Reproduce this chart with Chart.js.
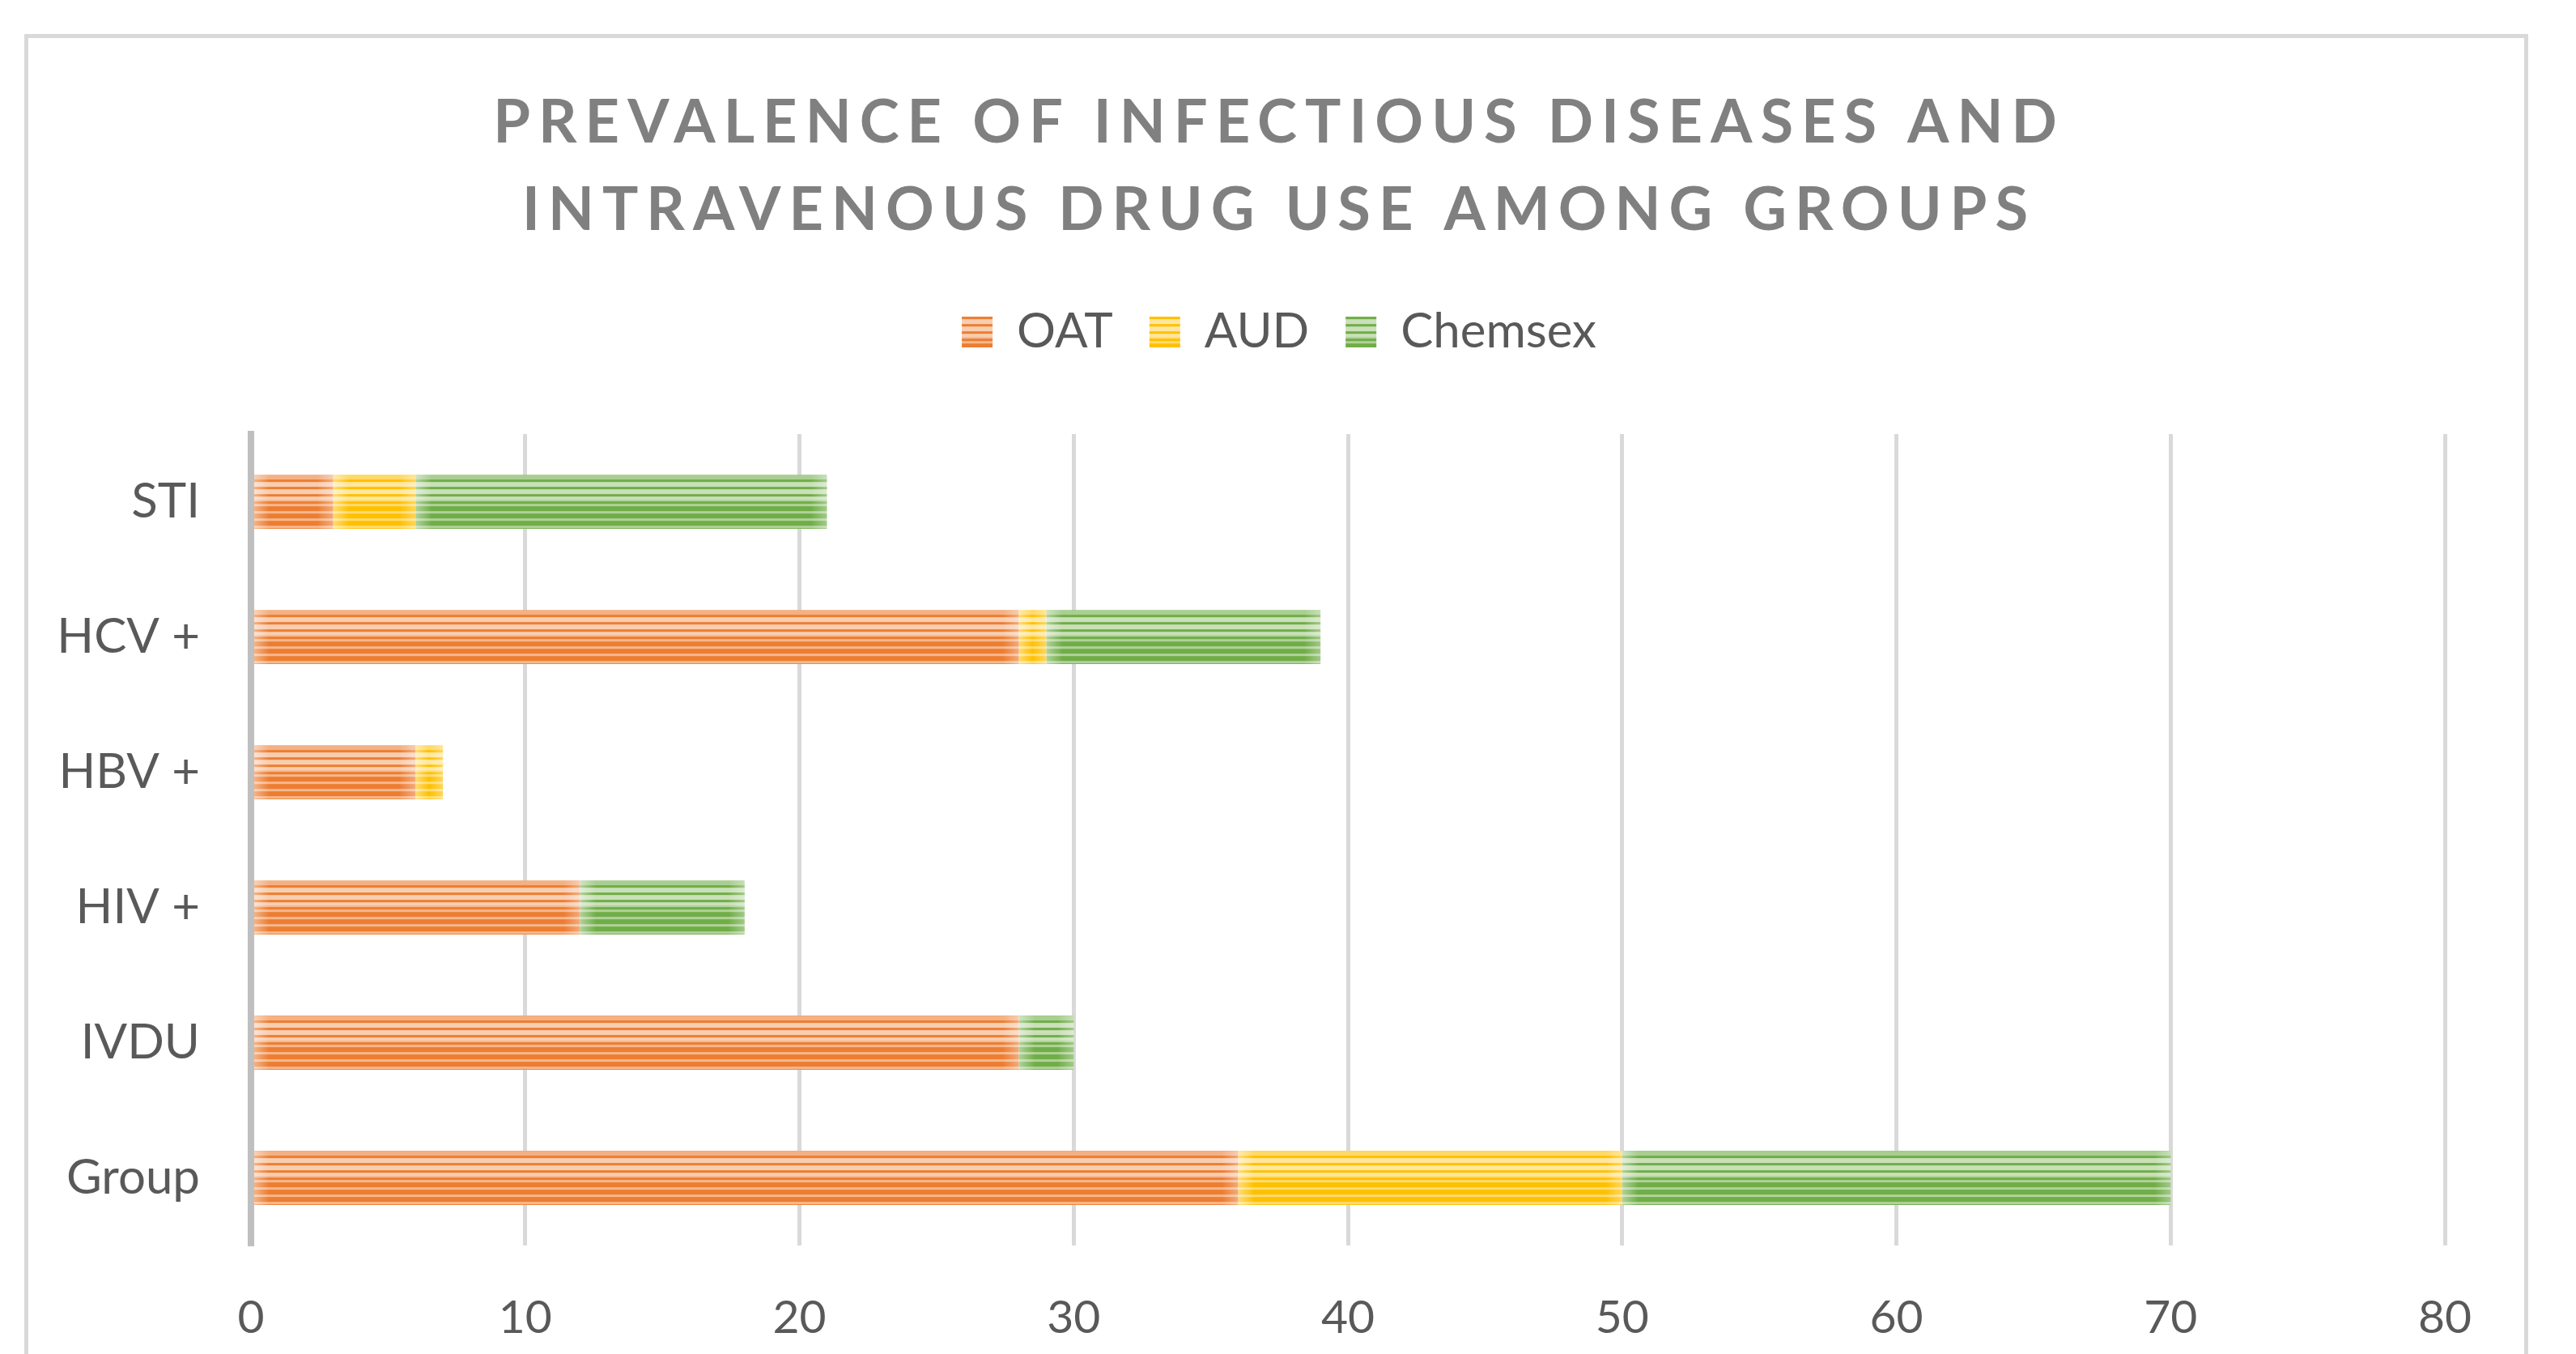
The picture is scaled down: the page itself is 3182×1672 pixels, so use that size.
<!DOCTYPE html>
<html lang="en">
<head>
<meta charset="UTF-8">
<title>Prevalence of infectious diseases and intravenous drug use among groups</title>
<style>
  body {
    margin: 0;
    background: #fff;
  }
  .frame {
    position: absolute;
    left: 30px;
    top: 42px;
    width: 3093px;
    height: 1700px;
    border: 5px solid #d9d9d9;
    box-sizing: border-box;
  }
  #chart {
    position: absolute;
    left: 0;
    top: 0;
  }
</style>
</head>
<body>
<div class="frame"></div>
<canvas id="chart" width="3182" height="1672"></canvas>

<script src="https://cdn.jsdelivr.net/npm/chart.js"></script>
<script>
  // values (top row first)
  const groups = ['STI', 'HCV +', 'HBV +', 'HIV +', 'IVDU', 'Group'];
  const oat = [3, 28, 6, 12, 28, 36];
  const aud = [3, 1, 1, 0, 0, 14];
  const chemsex = [15, 10, 0, 6, 2, 20];
  const xTicks = [0, 10, 20, 30, 40, 50, 60, 70, 80];

  function mix(hex, w) {
    const n = parseInt(hex.slice(1), 16);
    const r = n >> 16, g = (n >> 8) & 255, b = n & 255;
    const m = c => Math.round(c + (255 - c) * w);
    return `rgb(${m(r)},${m(g)},${m(b)})`;
  }

  // Excel style striped fill: thin dark lines on a pale top half,
  // thin pale lines on the darker bottom half
  function barTile(hex, h) {
    const c = document.createElement('canvas');
    c.width = 8;
    c.height = h;
    const g = c.getContext('2d');
    for (let y = 0; y < h; y++) {
      const p = y % 9;
      const light = y < h * 0.5 ? p < 6 : p < 3;
      let w = 0;
      if (light) w = y < 6 ? 0.4 : (y < h * 0.45 ? 0.62 : 0.45);
      g.fillStyle = light ? mix(hex, w) : hex;
      g.fillRect(0, y, 8, 1);
    }
    return c;
  }

  function stripes(hex) {
    return function (ctx) {
      const chart = ctx.chart;
      const yScale = chart.scales.y;
      if (ctx.type !== 'data' || !yScale || !chart.chartArea) {
        return chart.ctx.createPattern(barTile(hex, 38), 'repeat');
      }
      const h = yScale.height / groups.length * 0.4;
      const top = yScale.getPixelForValue(ctx.dataIndex) - h / 2;
      const pat = chart.ctx.createPattern(barTile(hex, Math.ceil(h)), 'repeat');
      pat.setTransform(new DOMMatrix().translate(0, top));
      return pat;
    };
  }

  // spaced-out title letters and a bit more room under the legend
  const layoutTweaks = {
    id: 'layoutTweaks',
    afterInit(chart) {
      const title = chart.titleBlock;
      const drawTitle = title.draw;
      title.draw = function () {
        chart.ctx.save();
        chart.ctx.letterSpacing = '10px';
        drawTitle.apply(this, arguments);
        chart.ctx.restore();
      };
      const legend = chart.legend;
      const fitLegend = legend.fit;
      legend.fit = function () {
        fitLegend.apply(this, arguments);
        this.height += 86;
      };
    }
  };

  // soft light glow at both ends of each bar segment
  const segmentGlow = {
    id: 'segmentGlow',
    afterDatasetsDraw(chart) {
      const ctx = chart.ctx;
      const glow = 20;
      chart.getSortedVisibleDatasetMetas().forEach(meta => {
        meta.data.forEach(bar => {
          const { x, y, base, height } = bar.getProps(['x', 'y', 'base', 'height'], true);
          const left = Math.min(x, base), right = Math.max(x, base);
          const w = right - left;
          if (w < 1) return;
          const top = y - height / 2;
          const g = Math.min(glow, w / 2);
          ctx.save();
          let grad = ctx.createLinearGradient(left, 0, left + g, 0);
          grad.addColorStop(0, 'rgba(255,255,255,0.45)');
          grad.addColorStop(1, 'rgba(255,255,255,0)');
          ctx.fillStyle = grad;
          ctx.fillRect(left, top, g, height);
          grad = ctx.createLinearGradient(right, 0, right - g, 0);
          grad.addColorStop(0, 'rgba(255,255,255,0.35)');
          grad.addColorStop(1, 'rgba(255,255,255,0)');
          ctx.fillStyle = grad;
          ctx.fillRect(right - g, top, g, height);
          ctx.restore();
        });
      });
    }
  };

  const labelColor = '#595959';

  new Chart(document.getElementById('chart'), {
    type: 'bar',
    data: {
      labels: groups,
      datasets: [
        { label: 'OAT', data: oat, backgroundColor: stripes('#ED7D31') },
        { label: 'AUD', data: aud, backgroundColor: stripes('#FFC000') },
        { label: 'Chemsex', data: chemsex, backgroundColor: stripes('#70AD47') }
      ]
    },
    options: {
      indexAxis: 'y',
      responsive: false,
      animation: false,
      layout: { padding: { left: 20, right: 42, top: 40, bottom: 10 } },
      datasets: {
        bar: { categoryPercentage: 1, barPercentage: 0.4, borderWidth: 0 }
      },
      plugins: {
        title: {
          display: true,
          text: ['PREVALENCE OF INFECTIOUS DISEASES AND', 'INTRAVENOUS DRUG USE AMONG GROUPS'],
          color: '#808080',
          font: { family: 'Lato', size: 74, weight: 'bold', lineHeight: 1.46 },
          padding: { top: 58, bottom: 21 }
        },
        legend: {
          labels: {
            color: labelColor,
            font: { family: 'Lato', size: 60 },
            boxWidth: 38,
            boxHeight: 38,
            padding: 45
          }
        },
        tooltip: { enabled: false }
      },
      scales: {
        x: {
          stacked: true,
          min: 0,
          max: 80,
          afterBuildTicks: s => { s.ticks = xTicks.map(v => ({ value: v })); },
          afterFit: s => { s.paddingRight = 162; s.height = 124; },
          ticks: { color: labelColor, font: { family: 'Lato', size: 57 }, padding: 55 },
          grid: { color: '#d9d9d9', lineWidth: 5, drawTicks: false },
          border: { display: false }
        },
        y: {
          stacked: true,
          afterFit: s => { s.width = 290; },
          ticks: { color: labelColor, font: { family: 'Lato', size: 60 }, padding: 63 },
          grid: { display: false, drawTicks: false },
          border: { color: '#bfbfbf', width: 8, z: 1 }
        }
      }
    },
    plugins: [layoutTweaks, segmentGlow]
  });
</script>
</body>
</html>
